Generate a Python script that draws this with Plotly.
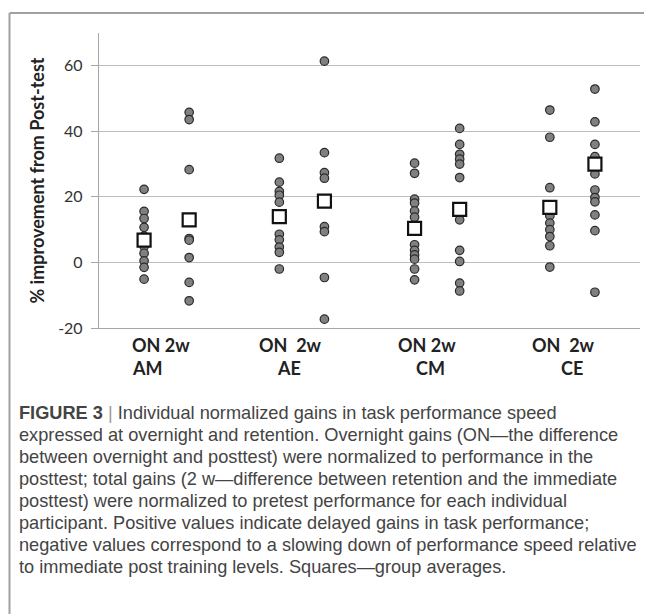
import plotly.graph_objects as go

# ---- data ----
groups = ["AM", "AE", "CM", "CE"]
sessions = ["ON", "2w"]
am_on = [22.3, 15.6, 13.4, 10.7, 8.0, 4.9, 2.8, 0.5, -1.5, -5.1]
am_2w = [45.8, 43.6, 28.3, 7.3, 6.8, 1.5, -6.1, -11.7]
ae_on = [31.8, 24.5, 21.7, 20.5, 18.4, 8.6, 6.9, 4.7, 3.1, -2.0]
ae_2w = [61.4, 33.5, 27.4, 25.7, 10.9, 9.4, -4.6, -17.3]
cm_on = [30.3, 27.2, 19.3, 18.1, 15.7, 13.8, 5.4, 3.7, 2.3, 1.0, -2.0, -5.3]
cm_2w = [40.9, 36.0, 33.0, 31.5, 30.0, 25.9, 13.0, 3.7, 0.3, -6.3, -8.7]
ce_on = [46.5, 38.2, 22.8, 16.5, 14.2, 12.0, 10.0, 7.9, 5.1, -1.4]
ce_2w = [52.9, 42.9, 36.0, 32.3, 27.0, 22.1, 19.8, 18.5, 14.5, 9.7, -9.1]
avg_on = [6.8, 14.0, 10.4, 16.8]
avg_2w = [13.0, 18.7, 16.2, 30.0]
y_ticks = [-20, 0, 20, 40, 60]
y_tick_text = ["-20", "0", "20", "40", "60"]
sub_labels = ["ON 2w", "ON&nbsp;&nbsp;2w", "ON 2w", "ON&nbsp;&nbsp;2w"]

caption_lines = [
    "<b>FIGURE 3</b> <span style='color:#9a9a9a'>|</span> Individual normalized gains in task performance speed",
    "expressed at overnight and retention. Overnight gains (ON\u2014the difference",
    "between overnight and posttest) were normalized to performance in the",
    "posttest; total gains (2 w\u2014difference between retention and the immediate",
    "posttest) were normalized to pretest performance for each individual",
    "participant. Positive values indicate delayed gains in task performance;",
    "negative values correspond to a slowing down of performance speed relative",
    "to immediate post training levels. Squares\u2014group averages.",
]

series = [[am_on, am_2w], [ae_on, ae_2w], [cm_on, cm_2w], [ce_on, ce_2w]]
avgs = [avg_on, avg_2w]

# ---- layout geometry (pixels; page body has an 8px margin) ----
OFF = 8
W, H = 652 - OFF, 614 - OFF
L, R, T = 99 - OFF, 12, 33 - OFF
B = H - (328 - OFF)
pw, ph = W - L - R, H - T - B


def px_x(p):  # reference-picture pixel -> paper x
    return (p - OFF - L) / pw


def px_y(p):  # reference-picture pixel -> paper y
    return (H - B - (p - OFF)) / ph


fig = go.Figure()

dot_x, dot_y = [], []
for g, pair in enumerate(series):
    for k, vals in enumerate(pair):
        pos = 3 * g + 1 + k
        dot_x += [pos] * len(vals)
        dot_y += vals

fig.add_trace(go.Scatter(
    x=dot_x, y=dot_y, mode="markers",
    marker=dict(size=8.5, color="#808080", line=dict(color="#2a2a2a", width=1.2)),
    showlegend=False, hoverinfo="y"))

sq_x, sq_y = [], []
for g in range(len(groups)):
    for k in range(len(sessions)):
        sq_x.append(3 * g + 1 + k)
        sq_y.append(avgs[k][g])

fig.add_trace(go.Scatter(
    x=sq_x, y=sq_y, mode="markers",
    marker=dict(symbol="square", size=13, color="white", line=dict(color="#111111", width=2.2)),
    showlegend=False, hoverinfo="y"))

font_lbl = "Lato, 'Open Sans', sans-serif"

annotations = []
sub_shift = [-6, -11, -10, -9]
grp_shift = [-19, -13, -7, 0]
for g, name in enumerate(groups):
    mid = 3 * g + 1.5
    annotations.append(dict(x=mid, y=px_y(345), xref="x", yref="paper", text="<b>" + sub_labels[g] + "</b>",
                            showarrow=False, xshift=sub_shift[g], yanchor="middle",
                            font=dict(family=font_lbl, size=18, color="#222222")))
    annotations.append(dict(x=mid, y=px_y(368), xref="x", yref="paper", text="<b>" + name + "</b>",
                            showarrow=False, xshift=grp_shift[g], yanchor="middle",
                            font=dict(family=font_lbl, size=18, color="#222222")))

for i, line in enumerate(caption_lines):
    annotations.append(dict(
        x=px_x(17), y=px_y(413 + 22 * i), xref="paper", yref="paper", xanchor="left", yanchor="middle",
        align="left", showarrow=False, text=line,
        font=dict(family="'Liberation Sans', Arial, sans-serif", size=18.2, color="#444444")))

shapes = [
    dict(type="line", xref="paper", yref="paper", x0=px_x(9.5), x1=px_x(660), y0=px_y(13), y1=px_y(13),
         line=dict(color="#a0a0a0", width=2)),
    dict(type="line", xref="paper", yref="paper", x0=px_x(9.5), x1=px_x(9.5), y0=px_y(13), y1=px_y(620),
         line=dict(color="#a0a0a0", width=2)),
]

fig.update_layout(
    width=W, height=H,
    margin=dict(l=L, r=R, t=T, b=B, autoexpand=False),
    paper_bgcolor="white", plot_bgcolor="white",
    annotations=annotations, shapes=shapes,
    xaxis=dict(range=[0, 12], showticklabels=False, showgrid=False, zeroline=False,
               showline=True, linecolor="#a6a6a6", linewidth=1.3, ticks=""),
    yaxis=dict(range=[-20, 70], tickvals=y_ticks, ticktext=y_tick_text,
               showgrid=True, gridcolor="#bdbdbd", gridwidth=1.3,
               zeroline=False, showline=True, linecolor="#a6a6a6", linewidth=1.3,
               ticks="outside", ticklen=7, tickcolor="#a6a6a6", tickwidth=1.3,
               ticklabelstandoff=5,
               tickfont=dict(family=font_lbl, size=16, color="#333333"),
               title=dict(text="<b>% improvement from Post-test</b>", standoff=8,
                          font=dict(family=font_lbl, size=18, color="#222222"))),
)

fig.write_html("out.html")
